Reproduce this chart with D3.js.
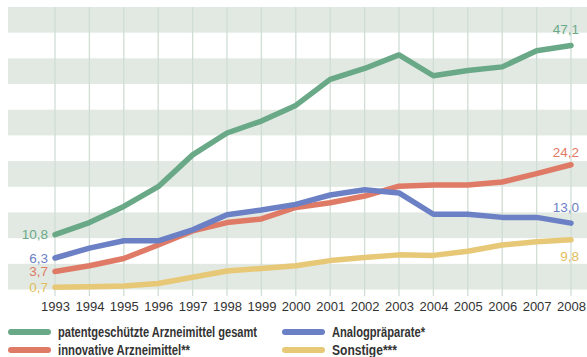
<!DOCTYPE html>
<html>
<head>
<meta charset="utf-8">
<script src="https://cdn.jsdelivr.net/npm/d3@7"></script>
<style>
  html, body { margin: 0; padding: 0; background: #ffffff; }
  svg { display: block; }
</style>
</head>
<body>
<svg id="chart" width="587" height="357"></svg>
<script>
// Years on the x axis
const years = [1993, 1994, 1995, 1996, 1997, 1998, 1999, 2000, 2001, 2002, 2003, 2004, 2005, 2006, 2007, 2008];

// Series values
const gesamt     = [10.8, 13.1, 16.2, 20.0, 26.1, 30.3, 32.6, 35.6, 40.6, 42.7, 45.3, 41.3, 42.3, 43.0, 46.1, 47.1];
const innovative = [3.7, 4.8, 6.2, 8.8, 11.5, 13.1, 13.8, 16.0, 16.9, 18.2, 20.1, 20.3, 20.3, 20.9, 22.5, 24.2];
const analog     = [6.3, 8.2, 9.6, 9.6, 11.7, 14.6, 15.5, 16.6, 18.4, 19.4, 18.8, 14.7, 14.7, 14.1, 14.1, 13.0];
const sonstige   = [0.7, 0.8, 0.9, 1.4, 2.6, 3.8, 4.3, 4.8, 5.8, 6.4, 6.9, 6.8, 7.6, 8.8, 9.4, 9.8];

// Series names and the start/end labels
const seriesNames = ["patentgeschützte Arzneimittel gesamt", "innovative Arzneimittel**", "Analogpräparate*", "Sonstige***"];
const startLabels = ["10,8", "3,7", "6,3", "0,7"];
const endLabels   = ["47,1", "24,2", "13,0", "9,8"];

const colors = ["#6aa987", "#df7a66", "#6b80c5", "#e7c877"];
const labelColors = ["#6aa987", "#df7a66", "#6b80c5", "#e2bd5c"];
const seriesValues = [gesamt, innovative, analog, sonstige];

const svg = d3.select("#chart");

const plot = { left: 8, right: 587, top: 7, bottom: 289.5 };

const x = d3.scalePoint().domain(years).range([55, 571]);
const y = d3.scaleLinear().domain([0, 54.5]).range([290.8, 7]);

// Alternating horizontal stripes
const stripeCount = 11;
const stripeH = (plot.bottom - plot.top) / stripeCount;
svg.append("g").selectAll("rect")
  .data(d3.range(0, stripeCount, 2))
  .join("rect")
  .attr("x", plot.left)
  .attr("width", plot.right - plot.left)
  .attr("y", i => plot.top + i * stripeH)
  .attr("height", stripeH)
  .attr("fill", "#e1e9e2");

// Vertical year grid lines, running slightly below the plot
svg.append("g").selectAll("line")
  .data(years)
  .join("line")
  .attr("x1", d => x(d)).attr("x2", d => x(d))
  .attr("y1", plot.top).attr("y2", 296)
  .attr("stroke", "#cfddd4")
  .attr("stroke-width", 1.3);

// Year labels
const xAxis = d3.axisBottom(x).tickSize(0).tickPadding(0);
const gx = svg.append("g").attr("transform", "translate(0,302)").call(xAxis);
gx.select(".domain").remove();
gx.selectAll("text")
  .attr("dy", "0.71em")
  .attr("font-family", "Liberation Sans, Arial, sans-serif")
  .attr("font-size", 13)
  .attr("fill", "#333333");

// Lines (drawn so that the total series sits on top)
const line = d3.line()
  .x((d, i) => x(years[i]))
  .y(d => y(d));

const drawOrder = [3, 1, 2, 0];
svg.append("g").selectAll("path")
  .data(drawOrder)
  .join("path")
  .attr("d", i => line(seriesValues[i]))
  .attr("fill", "none")
  .attr("stroke", i => colors[i])
  .attr("stroke-width", 5.5)
  .attr("stroke-linecap", "round")
  .attr("stroke-linejoin", "round");

// Value labels at the start of each line
const labelFont = "Liberation Sans, Arial, sans-serif";
svg.append("g").selectAll("text")
  .data([0, 1, 2, 3])
  .join("text")
  .attr("x", 48)
  .attr("y", i => y(seriesValues[i][0]))
  .attr("dy", "0.36em")
  .attr("text-anchor", "end")
  .attr("font-family", labelFont)
  .attr("font-size", 13.5)
  .attr("fill", i => labelColors[i])
  .text(i => startLabels[i]);

// Value labels at the end of each line (the last one sits below)
const endOffset = [-16, -13, -16, 16];
svg.append("g").selectAll("text")
  .data([0, 1, 2, 3])
  .join("text")
  .attr("x", 579)
  .attr("y", i => y(seriesValues[i][seriesValues[i].length - 1]) + endOffset[i])
  .attr("dy", "0.36em")
  .attr("text-anchor", "end")
  .attr("font-family", labelFont)
  .attr("font-size", 13.5)
  .attr("fill", i => labelColors[i])
  .text(i => endLabels[i]);

// Legend: two columns, two rows, set in a condensed bold face
const legendPos = [
  { x: 8, y: 332 },
  { x: 8, y: 350 },
  { x: 282, y: 332 },
  { x: 282, y: 350 }
];
const legendWidths = [199, 132, 93, 65];
const legend = svg.append("g").selectAll("g")
  .data([0, 1, 2, 3])
  .join("g")
  .attr("transform", i => `translate(${legendPos[i].x},${legendPos[i].y})`);

legend.append("line")
  .attr("x1", 3).attr("x2", 40)
  .attr("y1", 0).attr("y2", 0)
  .attr("stroke", i => colors[i])
  .attr("stroke-width", 6)
  .attr("stroke-linecap", "round");

legend.append("text")
  .attr("x", 50)
  .attr("dy", "0.36em")
  .attr("font-family", "Liberation Sans, Arial, sans-serif")
  .attr("font-size", 14)
  .attr("font-weight", "bold")
  .attr("fill", "#333333")
  .attr("textLength", i => legendWidths[i])
  .attr("lengthAdjust", "spacingAndGlyphs")
  .text(i => seriesNames[i]);
</script>
</body>
</html>
